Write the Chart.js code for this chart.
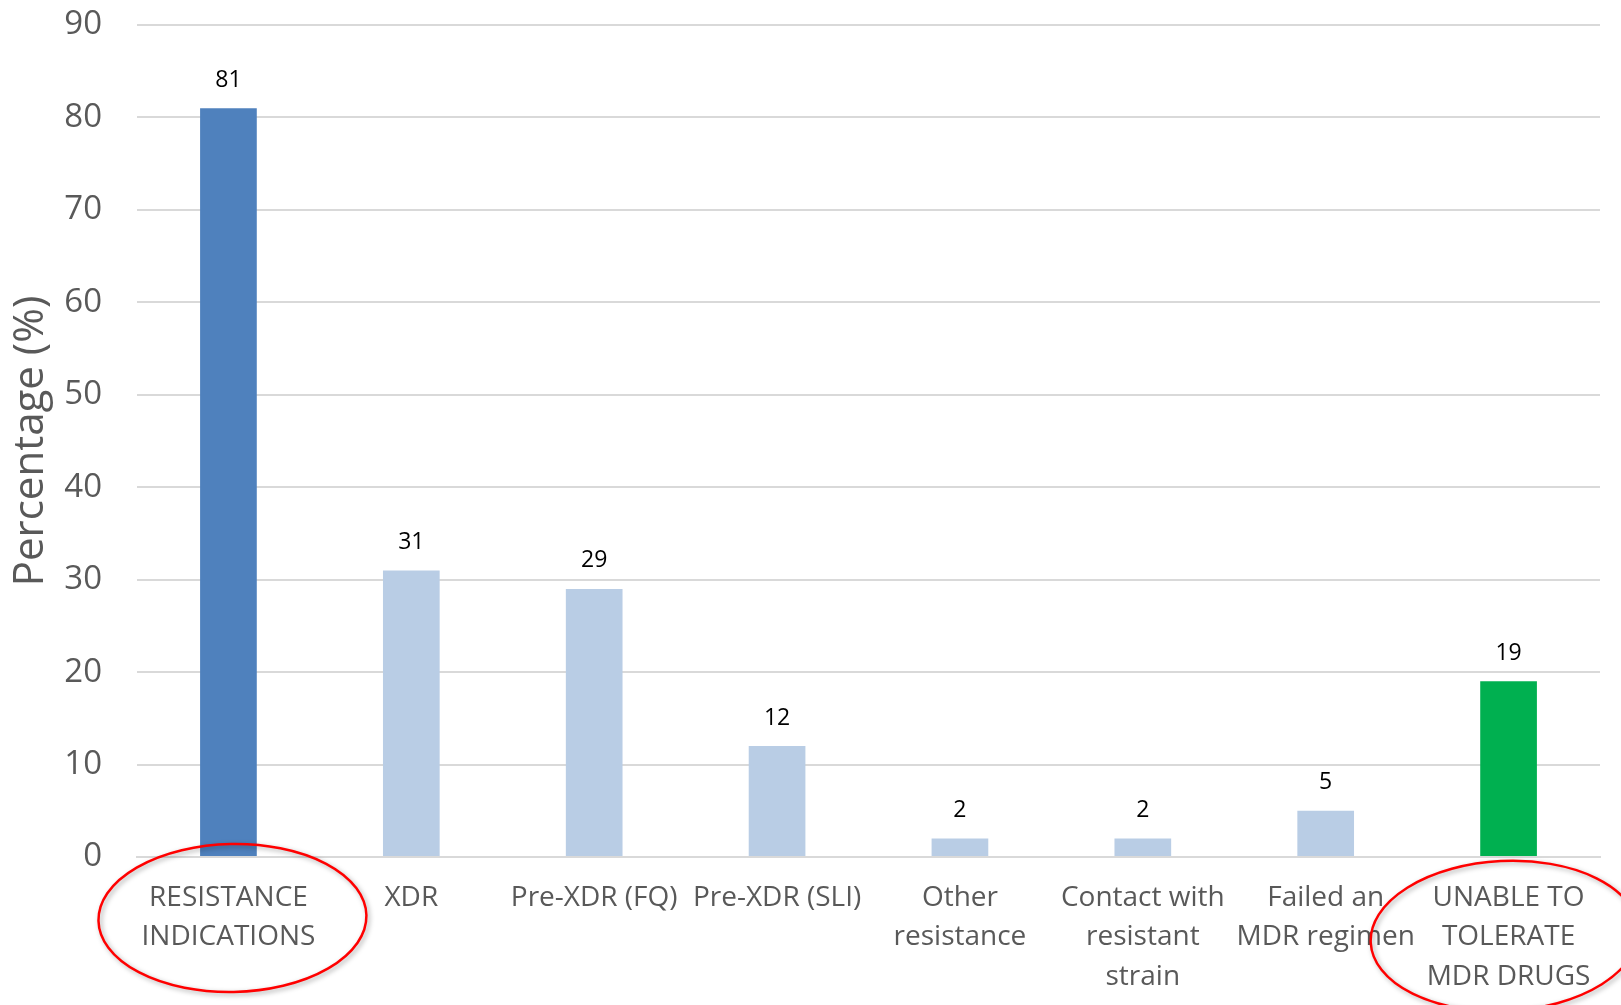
<!DOCTYPE html>
<html>
<head>
<meta charset="utf-8">
<title>Percentage by indication</title>
<script src="https://cdn.jsdelivr.net/npm/chart.js@4/dist/chart.umd.min.js"></script>
<style>
  html, body { margin: 0; padding: 0; background: #ffffff; }
  #wrap { width: 1621px; height: 1005px; }
</style>
</head>
<body>
<div id="wrap"><canvas id="chart" width="1621" height="1005"></canvas></div>
<script>
// Categories (multi-line tick labels)
const categories = [
  ['RESISTANCE', 'INDICATIONS'],
  ['XDR'],
  ['Pre-XDR (FQ)'],
  ['Pre-XDR (SLI)'],
  ['Other', 'resistance'],
  ['Contact with', 'resistant', 'strain'],
  ['Failed an', 'MDR regimen'],
  ['UNABLE TO', 'TOLERATE', 'MDR DRUGS']
];

// Percentage of patients per indication
const percentages = [81, 31, 29, 12, 2, 2, 5, 19];

// Bar colours: summary bar, sub-categories, intolerance bar
const barColors = ['#4F81BD', '#B9CDE5', '#B9CDE5', '#B9CDE5', '#B9CDE5', '#B9CDE5', '#B9CDE5', '#00B050'];

// Y axis tick values
const yTicks = [0, 10, 20, 30, 40, 50, 60, 70, 80, 90];

// Categories highlighted with a red ring
const circledCategories = [0, 7];

const GREY_TEXT = '#595959';
const FONT = "'Open Sans', 'DejaVu Sans', sans-serif";

// Value labels above each bar
const valueLabels = {
  id: 'valueLabels',
  afterDatasetsDraw(chart) {
    const { ctx } = chart;
    const meta = chart.getDatasetMeta(0);
    ctx.save();
    ctx.fillStyle = '#000000';
    ctx.font = "23px " + FONT;
    ctx.textAlign = 'center';
    ctx.textBaseline = 'middle';
    meta.data.forEach((bar, i) => {
      ctx.fillText(String(chart.data.datasets[0].data[i]), bar.x, bar.y - 28);
    });
    ctx.restore();
  }
};

// Red rings around selected category labels
const labelRings = {
  id: 'labelRings',
  afterDraw(chart) {
    const { ctx, chartArea } = chart;
    const x = chart.scales.x;
    const rings = [
      { idx: circledCategories[0], dx: 4, dy: 61, rx: 134, ry: 74, rot: -0.02 },
      { idx: circledCategories[1], dx: -4, dy: 79, rx: 134, ry: 75, rot: -0.05 }
    ];
    ctx.save();
    ctx.strokeStyle = '#FF0000';
    ctx.lineWidth = 2.5;
    ctx.shadowColor = 'rgba(0,0,0,0.35)';
    ctx.shadowBlur = 5;
    ctx.shadowOffsetX = 2;
    ctx.shadowOffsetY = 2;
    rings.forEach(r => {
      const cx = x.getPixelForValue(r.idx) + r.dx;
      const cy = chartArea.bottom + r.dy;
      ctx.beginPath();
      ctx.ellipse(cx, cy, r.rx, r.ry, r.rot, 0, Math.PI * 2);
      ctx.stroke();
    });
    ctx.restore();
  }
};

new Chart(document.getElementById('chart'), {
  type: 'bar',
  data: {
    labels: categories,
    datasets: [{
      data: percentages,
      backgroundColor: barColors,
      borderWidth: 0,
      barPercentage: 0.31,
      categoryPercentage: 1.0
    }]
  },
  options: {
    responsive: false,
    devicePixelRatio: 1,
    animation: false,
    layout: { padding: { top: 25, right: 21, bottom: 0, left: 0 } },
    plugins: {
      legend: { display: false },
      tooltip: { enabled: false },
      title: { display: false }
    },
    scales: {
      x: {
        grid: { display: false, drawTicks: false },
        border: { display: true, color: '#D9D9D9', width: 2 },
        ticks: {
          color: GREY_TEXT,
          font: { family: FONT, size: 28, lineHeight: 1.41 },
          padding: 21,
          maxRotation: 0,
          minRotation: 0,
          autoSkip: false
        },
        afterFit(scale) { scale.height = 148; }
      },
      y: {
        min: 0,
        max: 90,
        afterBuildTicks(scale) { scale.ticks = yTicks.map(v => ({ value: v })); },
        // invisible tick marks provide the gap between labels and plot
        grid: { color: '#D9D9D9', lineWidth: 2, drawTicks: true, tickLength: 32, tickColor: 'rgba(0,0,0,0)' },
        border: { display: false },
        ticks: {
          color: GREY_TEXT,
          font: { family: FONT, size: 33 },
          padding: 3
        },
        title: {
          display: true,
          text: 'Percentage (%)',
          color: GREY_TEXT,
          font: { family: FONT, size: 42, lineHeight: 1.2 },
          padding: { top: 6, bottom: 0 }
        },
        afterFit(scale) { scale.width = 137; }
      }
    }
  },
  plugins: [valueLabels, labelRings]
});
</script>
</body>
</html>
